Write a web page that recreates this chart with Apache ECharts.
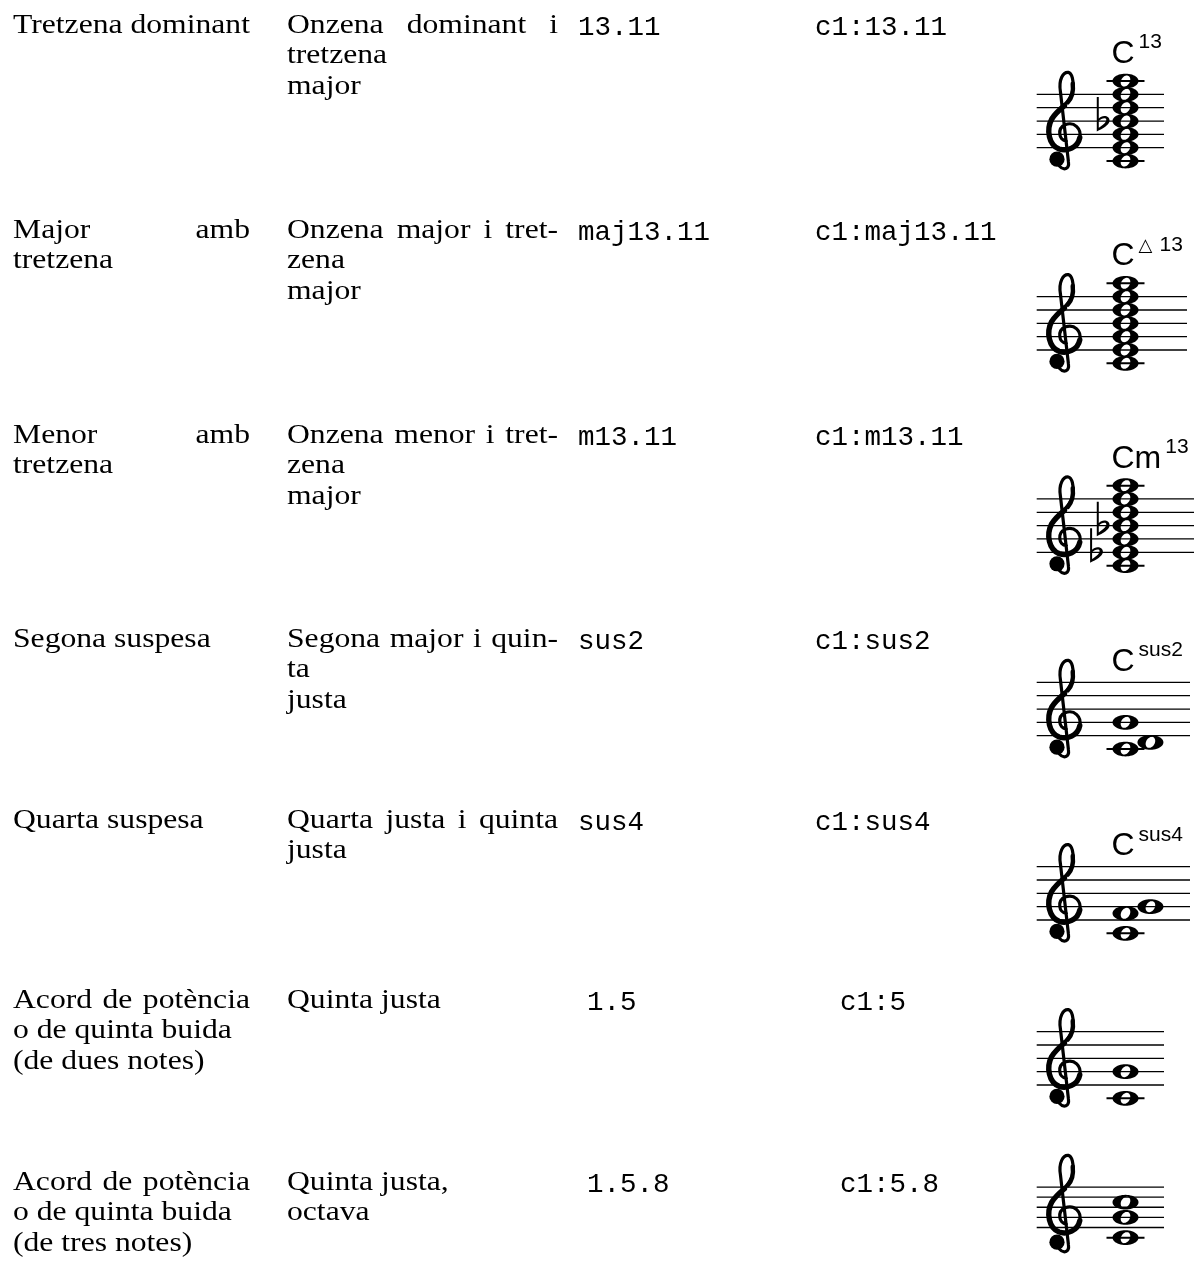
<!DOCTYPE html>
<html><head><meta charset="utf-8">
<script src="https://cdn.jsdelivr.net/npm/echarts@6/dist/echarts.min.js"></script>
<style>html,body{margin:0;padding:0;background:#fff}#c{width:1197px;height:1268px}</style>
</head><body><div id="c"></div>
<script>
// ---------------- data ----------------
const chordTypeLines = [
  ['Tretzena dominant'],
  ['Major amb', 'tretzena'],
  ['Menor amb', 'tretzena'],
  ['Segona suspesa'],
  ['Quarta suspesa'],
  ['Acord de potència', 'o de quinta buida', '(de dues notes)'],
  ['Acord de potència', 'o de quinta buida', '(de tres notes)']
];
const intervalLines = [
  ['Onzena dominant i', 'tretzena', 'major'],
  ['Onzena major i tret-', 'zena', 'major'],
  ['Onzena menor i tret-', 'zena', 'major'],
  ['Segona major i quin-', 'ta', 'justa'],
  ['Quarta justa i quinta', 'justa'],
  ['Quinta justa'],
  ['Quinta justa,', 'octava']
];
const modifierText = ['13.11', 'maj13.11', 'm13.11', 'sus2', 'sus4', '1.5', '1.5.8'];
const exampleText = ['c1:13.11', 'c1:maj13.11', 'c1:m13.11', 'c1:sus2', 'c1:sus4', 'c1:5', 'c1:5.8'];
// notes as diatonic steps above middle C (c' = 0)
const chordNotes = [
  [0, 2, 4, 6, 8, 10, 12],
  [0, 2, 4, 6, 8, 10, 12],
  [0, 2, 4, 6, 8, 10, 12],
  [0, 1, 4],
  [0, 3, 4],
  [0, 4],
  [0, 4, 7]
];
const chordFlats = [[6], [], [2, 6], [], [], [], []];
const chordRoot = ['C', 'C', 'C', 'C', 'C', '', ''];
const chordQuality = ['', '', 'm', '', '', '', ''];
const chordSuper = [['13'], ['△', '13'], ['13'], ['sus2'], ['sus4'], [], []];

// ---------------- layout ----------------
const SP = 13.3333, HS = SP / 2;
const LAYOUT = {
  rowBase: [35, 240, 445, 649, 830, 1010, 1192],
  lineGap: 30.5,
  colX: [[13,287,578,815],[13,287,578,815],[13,287,578,815],[13,287,578,815],[13,287,578,815],[13,287,587,840],[13,287,587,840]],
  colW: [237, 271],
  justify1: [false, true, true, false, false, true, true],
  justify2: [true, true, true, true, true, false, false],
  staffBottom: [147.7, 350, 552.3, 735.7, 920, 1085, 1250],
  staffLeft: 1036.7,
  staffRight: [1164, 1187, 1194, 1190, 1190, 1164, 1164],
  stepMin: -6, stepMax: 16,
  clefX: 2.08, noteX: 6.66, secondShift: 1.87, flatGap: 1.69, flatStack: 0.5,
  nameLift: 1.35, nameDX: -14,
  serif: { family: '"Liberation Serif"', size: 28, k: 0.3375, sx: 1.13 },
  mono: { family: '"Liberation Mono"', size: 27.5, k: 0.2665 },
  sans: { family: '"Liberation Sans"', size: 32, sup: 21, supRise: 15.5, k: 0.3465, supGap: 4 },
  tri: { family: '"DejaVu Sans"', size: 18, k: 0.346, gapAfter: 7 }
};

const mctx = document.createElement('canvas').getContext('2d');
function measure(str, font) { mctx.font = font; return mctx.measureText(str).width; }

function textEl(str, x, base, f, size, sx) {
  size = size || f.size;
  return { type: 'text', x: x, y: base - f.k * size, scaleX: sx || 1, scaleY: 1, originX: 0, originY: 0,
    style: { text: str, font: size + 'px ' + f.family, fill: '#000', align: 'left', verticalAlign: 'middle' } };
}

// ---------------- table cells ----------------
const cellData = [];
for (let r = 0; r < 7; r++) for (let c = 0; c < 4; c++) cellData.push([c, r]);

function renderCell(params, api) {
  const col = api.value(0), row = api.value(1);
  const x0 = LAYOUT.colX[row][col];
  const children = [];
  const S = LAYOUT.serif;
  if (col < 2) {
    const lines = col === 0 ? chordTypeLines[row] : intervalLines[row];
    const just = col === 0 ? LAYOUT.justify1[row] : LAYOUT.justify2[row];
    lines.forEach((ln, i) => {
      const p = api.coord([x0, LAYOUT.rowBase[row] + i * LAYOUT.lineGap]);
      if (i === 0 && just && lines.length > 1) {
        const words = ln.split(' ');
        const font = S.size + 'px ' + S.family;
        const ws = words.map(w => measure(w, font) * S.sx);
        const tot = ws.reduce((a, b) => a + b, 0);
        const gap = (LAYOUT.colW[col] - tot) / (words.length - 1);
        let x = p[0];
        words.forEach((w, j) => { children.push(textEl(w, x, p[1], S, S.size, S.sx)); x += ws[j] + gap; });
      } else {
        children.push(textEl(ln, p[0], p[1], S, S.size, S.sx));
      }
    });
  } else {
    const s = col === 2 ? modifierText[row] : exampleText[row];
    const p = api.coord([x0, LAYOUT.rowBase[row]]);
    children.push(textEl(s, p[0], p[1], LAYOUT.mono));
  }
  return { type: 'group', children };
}

// ---------------- music helpers ----------------
function ellipsePath(cx, cy, rx, ry, rot, n, reverse) {
  const pts = [];
  for (let i = 0; i < n; i++) {
    const t = (reverse ? -1 : 1) * i / n * 2 * Math.PI;
    const x = rx * Math.cos(t), y = ry * Math.sin(t);
    pts.push((cx + x * Math.cos(rot) - y * Math.sin(rot)).toFixed(2) + ' ' + (cy + x * Math.sin(rot) + y * Math.cos(rot)).toFixed(2));
  }
  return 'M' + pts.join(' L') + ' Z';
}
function wholeNote(cx, cy) {
  return { type: 'path', shape: { pathData: ellipsePath(cx, cy, 13, 7.4, 0, 48, false) + ' ' + ellipsePath(cx, cy, 4.3, 5.9, 0.55, 36, true) },
    style: { fill: '#000', stroke: null } };
}
function flatEl(fx, fy) {
  const f = (x, y) => (fx + x).toFixed(2) + ' ' + (fy + y).toFixed(2);
  const d = 'M' + f(-6.2, -24) + ' L' + f(-4.2, -24) + ' L' + f(-4.2, -2.5) +
    ' C' + f(-1, -6.8) + ' ' + f(7.2, -5.8) + ' ' + f(6.6, 0) +
    ' C' + f(6, 4) + ' ' + f(0, 7.5) + ' ' + f(-6.2, 10.5) + ' Z ' +
    'M' + f(-4.2, 6.8) + ' C' + f(-1, 4.5) + ' ' + f(3.6, 1.2) + ' ' + f(3.3, -1.4) +
    ' C' + f(3, -4) + ' ' + f(-2, -2.8) + ' ' + f(-4.2, 0) + ' Z';
  return { type: 'path', shape: { pathData: d }, style: { fill: '#000', stroke: null } };
}
function clefEls(cx, cy) {
  const s = SP;
  const f = (x, y) => (cx + x * s).toFixed(2) + ' ' + (cy - y * s).toFixed(2);
  const main = 'M' + f(0.15, -0.5) +
    ' C' + f(-0.45, -0.45) + ' ' + f(-0.55, 0.45) + ' ' + f(0.05, 0.72) +
    ' C' + f(0.75, 1.0) + ' ' + f(1.3, 0.4) + ' ' + f(1.15, -0.25) +
    ' C' + f(1.0, -1.0) + ' ' + f(0.2, -1.3) + ' ' + f(-0.4, -1.1) +
    ' C' + f(-1.15, -0.8) + ' ' + f(-1.4, 0.3) + ' ' + f(-0.95, 1.15) +
    ' C' + f(-0.5, 1.9) + ' ' + f(0.55, 2.45) + ' ' + f(0.65, 3.4) +
    ' C' + f(0.72, 4.0) + ' ' + f(0.55, 4.6) + ' ' + f(0.3, 4.65) +
    ' C' + f(-0.1, 4.7) + ' ' + f(-0.45, 4.1) + ' ' + f(-0.3, 3.2) +
    ' L' + f(0.3, -2.05) +
    ' C' + f(0.38, -2.6) + ' ' + f(-0.05, -2.75) + ' ' + f(-0.4, -2.35);
  const thick = 'M' + f(1.15, -0.25) + ' C' + f(1.0, -1.0) + ' ' + f(0.2, -1.3) + ' ' + f(-0.4, -1.1) +
    ' C' + f(-1.15, -0.8) + ' ' + f(-1.4, 0.3) + ' ' + f(-0.95, 1.15) +
    ' C' + f(-0.7, 1.55) + ' ' + f(-0.3, 1.9) + ' ' + f(0.0, 2.15);
  const belly = 'M' + f(0.25, 2.4) + ' C' + f(0.6, 2.8) + ' ' + f(0.7, 3.2) + ' ' + f(0.62, 3.8);
  const ball = f(-0.56, -1.86).split(' ').map(Number);
  return [
    { type: 'path', shape: { pathData: main }, style: { fill: null, stroke: '#000', lineWidth: 3.2, lineCap: 'round', lineJoin: 'round' } },
    { type: 'path', shape: { pathData: thick }, style: { fill: null, stroke: '#000', lineWidth: 5.4, lineCap: 'round' } },
    { type: 'path', shape: { pathData: belly }, style: { fill: null, stroke: '#000', lineWidth: 4.4, lineCap: 'round' } },
    { type: 'circle', shape: { cx: ball[0], cy: ball[1], r: 0.57 * s }, style: { fill: '#000' } }
  ];
}

// ---------------- options ----------------
const grids = [{ left: 0, top: 0, width: 1197, height: 1268 }];
const xAxes = [{ type: 'value', min: 0, max: 1197, show: false, gridIndex: 0 }];
const yAxes = [{ type: 'value', min: 0, max: 1268, inverse: true, show: false, gridIndex: 0 }];
const series = [{ type: 'custom', coordinateSystem: 'cartesian2d', xAxisIndex: 0, yAxisIndex: 0, data: cellData, renderItem: renderCell, silent: true }];

for (let r = 0; r < 7; r++) {
  const gi = r + 1;
  const width = LAYOUT.staffRight[r] - LAYOUT.staffLeft;
  const xmax = width / SP;
  const top = LAYOUT.staffBottom[r] - (LAYOUT.stepMax - 2) * HS;
  grids.push({ left: LAYOUT.staffLeft, top: top, width: width, height: (LAYOUT.stepMax - LAYOUT.stepMin) * HS });
  xAxes.push({ type: 'value', min: 0, max: xmax, show: false, gridIndex: gi });
  yAxes.push({ type: 'value', min: LAYOUT.stepMin, max: LAYOUT.stepMax, show: false, gridIndex: gi });

  const notes = chordNotes[r].slice().sort((a, b) => a - b);
  const noteData = [];
  let prevStep = null, prevCol = 1;
  notes.forEach(st => {
    const col = (prevStep !== null && st - prevStep === 1 && prevCol === 0) ? 1 : 0;
    noteData.push([LAYOUT.noteX + col * LAYOUT.secondShift, st]);
    prevStep = st; prevCol = col;
  });
  const flats = chordFlats[r].slice().sort((a, b) => b - a);
  const flatData = [];
  let pf = null;
  flats.forEach(st => {
    let x = LAYOUT.noteX - LAYOUT.flatGap;
    if (pf && pf[1] - st < 6) x = pf[0] - LAYOUT.flatStack;
    pf = [x, st];
    flatData.push([x, st]);
  });
  const topStep = Math.max(Math.max.apply(null, notes) + 1, 10) + LAYOUT.nameLift;

  // staff, clef and chord name
  series.push({
    type: 'custom', coordinateSystem: 'cartesian2d', xAxisIndex: gi, yAxisIndex: gi, silent: true,
    data: [[0, 2]],
    renderItem: (params, api) => {
      const ch = [];
      [2, 4, 6, 8, 10].forEach(st => {
        const a = api.coord([0, st]), b = api.coord([xmax, st]);
        ch.push({ type: 'line', shape: { x1: a[0], y1: a[1], x2: b[0], y2: b[1] }, style: { stroke: '#000', lineWidth: 1.3 } });
      });
      const c = api.coord([LAYOUT.clefX, 4]);
      clefEls(c[0], c[1]).forEach(e => ch.push(e));
      if (chordRoot[r]) {
        const p = api.coord([LAYOUT.noteX, topStep]);
        const A = LAYOUT.sans;
        let x = p[0] + LAYOUT.nameDX;
        const base = p[1];
        const bigFont = A.size + 'px ' + A.family;
        ch.push(textEl(chordRoot[r], x, base, A));
        x += measure(chordRoot[r], bigFont);
        if (chordQuality[r]) { ch.push(textEl(chordQuality[r], x, base, A)); x += measure(chordQuality[r], bigFont); }
        x += A.supGap;
        chordSuper[r].forEach(part => {
          if (part === '△') {
            const T = LAYOUT.tri;
            ch.push(textEl(part, x, base - A.supRise, T, T.size));
            x += measure(part, T.size + 'px ' + T.family) + T.gapAfter;
          } else {
            ch.push(textEl(part, x, base - A.supRise, A, A.sup));
            x += measure(part, A.sup + 'px ' + A.family);
          }
        });
      }
      return { type: 'group', children: ch };
    }
  });
  // accidentals
  series.push({
    type: 'custom', coordinateSystem: 'cartesian2d', xAxisIndex: gi, yAxisIndex: gi, silent: true,
    data: flatData,
    renderItem: (params, api) => {
      const p = api.coord([api.value(0), api.value(1)]);
      return flatEl(p[0], p[1]);
    }
  });
  // note heads with ledger lines
  series.push({
    type: 'custom', coordinateSystem: 'cartesian2d', xAxisIndex: gi, yAxisIndex: gi, silent: true,
    data: noteData,
    renderItem: (params, api) => {
      const x = api.value(0), st = api.value(1);
      const p = api.coord([x, st]);
      const ch = [];
      const ledgers = [];
      for (let l = 0; l >= st; l -= 2) ledgers.push(l);
      for (let l = 12; l <= st; l += 2) ledgers.push(l);
      ledgers.forEach(l => {
        const q = api.coord([x, l]);
        ch.push({ type: 'line', shape: { x1: q[0] - 19, y1: q[1], x2: q[0] + 19, y2: q[1] }, style: { stroke: '#000', lineWidth: 2 } });
      });
      ch.push(wholeNote(p[0], p[1]));
      return { type: 'group', children: ch };
    }
  });
}

const chart = echarts.init(document.getElementById('c'), null, { renderer: 'canvas' });
chart.setOption({ animation: false, backgroundColor: '#fff', grid: grids, xAxis: xAxes, yAxis: yAxes, series: series });
</script>
</body></html>
